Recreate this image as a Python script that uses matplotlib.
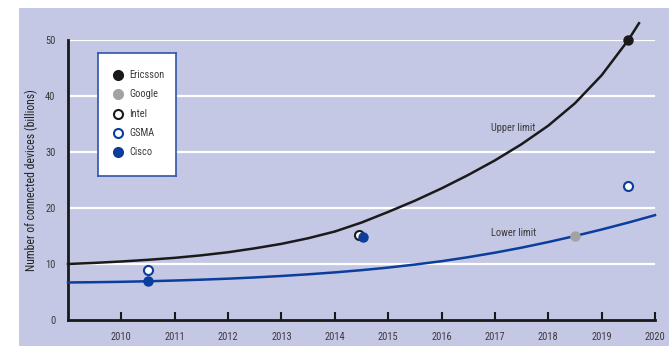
import matplotlib
matplotlib.use("Agg")
import matplotlib.pyplot as plt
from matplotlib.patches import Rectangle
from matplotlib import font_manager

names = {f.name for f in font_manager.fontManager.ttflist}
FONT = "DejaVu Sans"
for cand in ["Liberation Sans Narrow", "Roboto Condensed", "DejaVu Sans Condensed", "Open Sans Condensed"]:
    if cand in names:
        FONT = cand
        break
plt.rcParams["font.family"] = [FONT, "DejaVu Sans"]
STRETCH = "normal" if FONT != "DejaVu Sans" else "condensed"

# ---- data ----
upper_years = [2009, 2009.5, 2010, 2010.5, 2011, 2011.5, 2012, 2012.5, 2013, 2013.5,
               2014, 2014.5, 2015, 2015.5, 2016, 2016.5, 2017, 2017.5, 2018, 2018.5,
               2019, 2019.5, 2019.7]
upper_vals = [10.0, 10.2, 10.45, 10.75, 11.1, 11.55, 12.1, 12.8, 13.6, 14.6,
              15.8, 17.4, 19.3, 21.3, 23.5, 25.9, 28.5, 31.4, 34.7, 38.7,
              43.7, 50.0, 53.0]
lower_years = [2009, 2009.5, 2010, 2010.5, 2011, 2011.5, 2012, 2012.5, 2013, 2013.5,
               2014, 2014.5, 2015, 2015.5, 2016, 2016.5, 2017, 2017.5, 2018, 2018.5,
               2019, 2019.5, 2020]
lower_vals = [6.7, 6.75, 6.82, 6.92, 7.05, 7.2, 7.38, 7.6, 7.86, 8.16,
              8.5, 8.9, 9.36, 9.9, 10.5, 11.22, 12.02, 12.92, 13.92, 15.0,
              16.16, 17.4, 18.72]

ericsson = ([2019.5], [50])
google = ([2018.5], [15])
intel = ([2014.45], [15.2])
gsma = ([2010.5, 2019.5], [9, 24])
cisco = ([2010.5, 2014.52], [7, 14.8])

x_ticks = list(range(2010, 2021))
y_ticks = [0, 10, 20, 30, 40, 50]

BLUE = "#0b3d9c"
GREY = "#a3a3a3"
BLACK = "#1a1a1a"
PANEL = "#c5c8e5"
TXT = "#3a3a3a"

W, H = 669, 346
fig = plt.figure(figsize=(W / 100, H / 100), dpi=100)
fig.patch.set_facecolor("white")
fig.add_artist(Rectangle((19 / W, 0), 1 - 19 / W, (H - 8) / H, transform=fig.transFigure,
                         facecolor=PANEL, edgecolor="none", zorder=0))

ax = fig.add_axes([68 / W, (H - 320) / H, (655 - 68) / W, 280 / H])
ax.set_facecolor("none")
ax.set_xlim(2009, 2020)
ax.set_ylim(0, 50)

for v in y_ticks[1:]:
    ax.axhline(v, color="white", lw=1.6, zorder=1)

ax.plot(upper_years, upper_vals, color=BLACK, lw=1.8,
        clip_on=False, zorder=3, solid_joinstyle="round")
ax.plot(lower_years, lower_vals, color=BLUE, lw=1.8, clip_on=False, zorder=3,
        solid_joinstyle="round")

ms = 6.5
ax.plot(*intel, "o", ms=ms, mfc="white", mec=BLACK, mew=1.5, zorder=4, clip_on=False)
ax.plot(*cisco, "o", ms=ms, mfc=BLUE, mec=BLUE, zorder=5, clip_on=False)
ax.plot(*gsma, "o", ms=ms, mfc="white", mec=BLUE, mew=1.5, zorder=5, clip_on=False)
ax.plot(*google, "o", ms=ms, mfc=GREY, mec=GREY, zorder=5, clip_on=False)
ax.plot(*ericsson, "o", ms=ms, mfc=BLACK, mec=BLACK, zorder=5, clip_on=False)

ax.text(2017.35, 34.2, "Upper limit", fontsize=7.5, color=TXT, ha="center", va="center",
        fontstretch=STRETCH)
ax.text(2017.35, 15.6, "Lower limit", fontsize=7.5, color=TXT, ha="center", va="center",
        fontstretch=STRETCH)

for s in ["top", "right"]:
    ax.spines[s].set_visible(False)
for s in ["left", "bottom"]:
    ax.spines[s].set_linewidth(2)
    ax.spines[s].set_color(BLACK)
ax.spines["left"].set_bounds(0, 50)

ax.set_xticks(x_ticks)
ax.set_xticklabels([str(x) for x in x_ticks])
ax.set_yticks(y_ticks)
ax.set_yticklabels([str(y) for y in y_ticks])
ax.tick_params(axis="x", direction="in", length=6, width=1.5, color=BLACK,
               pad=9, labelsize=7.5, labelcolor=TXT)
ax.tick_params(axis="y", length=0, pad=9, labelsize=7.5, labelcolor=TXT)
ax.set_ylabel("Number of connected devices (billions)", fontsize=8.5, color="#222222",
              labelpad=5, fontstretch=STRETCH)

# legend box
lax = fig.add_axes([98 / W, (H - 176) / H, (176 - 98) / W, (176 - 53) / H])
lax.set_xlim(0, 78)
lax.set_ylim(123, 0)
lax.set_xticks([])
lax.set_yticks([])
lax.set_facecolor("white")
for s in lax.spines.values():
    s.set_color("#2f55a8")
    s.set_linewidth(1.2)
entries = [("Ericsson", BLACK, BLACK), ("Google", GREY, GREY), ("Intel", "white", BLACK),
           ("GSMA", "white", BLUE), ("Cisco", BLUE, BLUE)]
for i, (name, fc, ec) in enumerate(entries):
    yy = 22 + i * 19.3
    lax.plot([20], [yy], "o", ms=ms, mfc=fc, mec=ec, mew=1.5)
    lax.text(31, yy, name, fontsize=7.5, color=TXT, va="center", ha="left",
             fontstretch=STRETCH)

fig.savefig("out.png", dpi=100)
